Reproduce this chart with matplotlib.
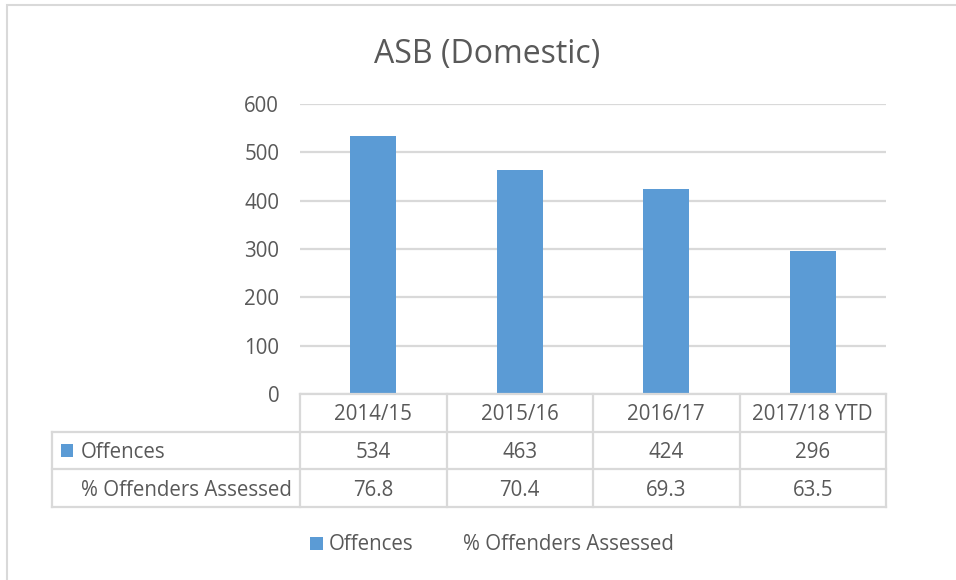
import matplotlib
matplotlib.use("Agg")
import matplotlib.pyplot as plt
from matplotlib.patches import Rectangle, Patch
from matplotlib.lines import Line2D

# ---- data ----
categories = ["2014/15", "2015/16", "2016/17", "2017/18 YTD"]
offences = [534, 463, 424, 296]
pct_assessed = [76.8, 70.4, 69.3, 63.5]
series_names = ["Offences", "% Offenders Assessed"]
title = "ASB (Domestic)"
yticks = [0, 100, 200, 300, 400, 500, 600]

# ---- style ----
W, H = 956, 580
BAR = "#5B9BD5"
GRID = "#D9D9D9"
TXT = "#595959"
FONT = "Open Sans"
FS = 14.8

plt.rcParams["font.family"] = [FONT, "DejaVu Sans"]

fig = plt.figure(figsize=(W / 100, H / 100), dpi=100)
fig.patch.set_facecolor("white")


def fx(x):
    return x / W


def fy(y):
    return 1 - y / H


# plot area (pixel geometry)
x0, x1 = 300, 886
ytop, ybot = 104, 394
ax = fig.add_axes([fx(x0), fy(ybot), fx(x1) - fx(x0), fy(ytop) - fy(ybot)])
ax.set_xlim(-0.5, len(categories) - 0.5)
ax.set_ylim(0, 600)
ax.bar(range(len(categories)), offences, width=0.315, color=BAR, zorder=3)
ax.set_yticks(yticks)
ax.set_yticklabels([str(t) for t in yticks])
ax.yaxis.grid(True, color=GRID, linewidth=1.6, zorder=0)
ax.set_axisbelow(True)
ax.set_xticks([])
for s in ax.spines.values():
    s.set_visible(False)
ax.tick_params(axis="y", length=0, pad=15, labelsize=FS, labelcolor=TXT)

# outer frame of chart
fig.add_artist(Rectangle((fx(7), fy(700)), fx(1100) - fx(7), fy(5) - fy(700),
                         transform=fig.transFigure, fill=False,
                         edgecolor=GRID, linewidth=1.5))

# title
fig.text(fx(487), fy(54), title, ha="center", va="center", fontsize=23, color=TXT)

# ---- data table ----
col_edges = [x0 + (x1 - x0) * i / len(categories) for i in range(len(categories) + 1)]
row_edges = [394, 432, 469, 507]
tleft = 52


def hline(y, xa, xb):
    fig.add_artist(Line2D([fx(xa), fx(xb)], [fy(y), fy(y)], transform=fig.transFigure,
                          color=GRID, linewidth=1.6))


def vline(x, ya, yb):
    fig.add_artist(Line2D([fx(x), fx(x)], [fy(ya), fy(yb)], transform=fig.transFigure,
                          color=GRID, linewidth=1.6))


hline(row_edges[0], x0, x1)
for y in row_edges[1:]:
    hline(y, tleft, x1)
for x in col_edges:
    vline(x, row_edges[0], row_edges[-1])
vline(tleft, row_edges[1], row_edges[-1])

row_mid = [(row_edges[i] + row_edges[i + 1]) / 2 + 2 for i in range(3)]
for i, cat in enumerate(categories):
    cx = (col_edges[i] + col_edges[i + 1]) / 2
    fig.text(fx(cx), fy(row_mid[0]), cat, ha="center", va="center", fontsize=FS, color=TXT)
    fig.text(fx(cx), fy(row_mid[1]), f"{offences[i]}", ha="center", va="center",
             fontsize=FS, color=TXT)
    fig.text(fx(cx), fy(row_mid[2]), f"{pct_assessed[i]:.1f}", ha="center", va="center",
             fontsize=FS, color=TXT)

# row labels
fig.add_artist(Rectangle((fx(61), fy(457)), fx(73) - fx(61), fy(444) - fy(457),
                         transform=fig.transFigure, facecolor=BAR, edgecolor="none"))
fig.text(fx(81), fy(row_mid[1]), series_names[0], ha="left", va="center", fontsize=FS, color=TXT)
fig.text(fx(81), fy(row_mid[2]), series_names[1], ha="left", va="center", fontsize=FS, color=TXT)

# legend
handles = [Patch(facecolor=BAR, edgecolor="none"),
           Line2D([], [], color="none")]
leg = fig.legend(handles, series_names, loc="center", ncol=2,
                 bbox_to_anchor=(fx(492), fy(545)), frameon=False,
                 fontsize=FS, labelcolor=TXT, handlelength=0.62, handleheight=0.62,
                 handletextpad=0.3, columnspacing=1.5)

fig.savefig("out.png", dpi=100, facecolor="white")
